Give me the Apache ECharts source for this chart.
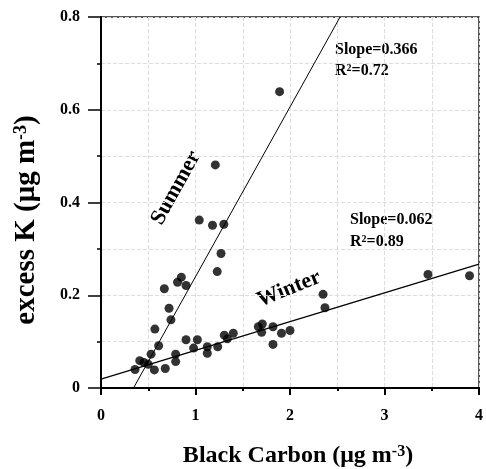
<!DOCTYPE html>
<html>
<head>
<meta charset="utf-8">
<script src="https://cdn.jsdelivr.net/npm/echarts@6/dist/echarts.min.js"></script>
<style>
  html, body { margin: 0; padding: 0; background: #fff; }
  #chart { width: 486px; height: 469px; }
</style>
</head>
<body>
<div id="chart"></div>
<script>
// summer points (black carbon, excess K)
const summerX = [0.41, 0.53, 0.57, 0.61, 0.67, 0.72, 0.74, 0.81, 0.85, 0.90, 1.04, 1.18, 1.30, 1.27, 1.23, 1.21, 1.89]
const summerY = [0.059, 0.073, 0.127, 0.091, 0.214, 0.172, 0.147, 0.228, 0.239, 0.221, 0.362, 0.351, 0.353, 0.290, 0.251, 0.481, 0.639]
// winter points
const winterX = [0.36, 0.455, 0.50, 0.565, 0.68, 0.79, 0.79, 0.90, 0.98, 1.02, 1.125, 1.125, 1.235, 1.305, 1.337, 1.40, 1.665, 1.707, 1.70, 1.82, 1.82, 1.91, 2.00, 2.35, 2.37, 3.46, 3.90]
const winterY = [0.040, 0.055, 0.051, 0.039, 0.042, 0.073, 0.057, 0.104, 0.086, 0.104, 0.089, 0.075, 0.089, 0.114, 0.106, 0.118, 0.132, 0.138, 0.120, 0.132, 0.094, 0.118, 0.124, 0.202, 0.173, 0.245, 0.242]
// regression lines: slope, intercept, x range
const fitSlope = [0.366, 0.062]
const fitIntercept = [-0.126, 0.019]
const fitFrom = [0.345, 0]
const fitTo = [2.53, 4]
const xTicks = [0, 1, 2, 3, 4]
const yTicks = [0, 0.2, 0.4, 0.6, 0.8]

const font = 'Liberation Serif'
const pairs = (xs, ys) => xs.map((x, i) => [x, ys[i]])
const fitLine = i => [fitFrom[i], fitTo[i]].map(x => [x, fitSlope[i] * x + fitIntercept[i]])
const sup = size => ({ font: 'bold ' + size + 'px "Liberation Serif"', verticalAlign: 'top', fill: '#000' })

const chart = echarts.init(document.getElementById('chart'))
chart.setOption({
  animation: false,
  grid: {
    left: 101, right: 7, top: 17, bottom: 81,
    show: true, borderColor: '#222', borderWidth: 1.5
  },
  xAxis: {
    type: 'value', min: 0, max: 4, interval: 1,
    axisLine: { lineStyle: { color: '#000', width: 2 } },
    axisTick: { length: 7, lineStyle: { color: '#000', width: 2 } },
    minorTick: { show: true, splitNumber: 2, length: 3, lineStyle: { color: '#000', width: 2 } },
    axisLabel: {
      fontFamily: font, fontWeight: 'bold', fontSize: 16, color: '#000', margin: 20,
      formatter: v => xTicks.includes(v) ? String(v) : ''
    },
    splitLine: { show: true, lineStyle: { color: '#ddd', type: 'dashed' } },
    minorSplitLine: { show: true, lineStyle: { color: '#ddd', type: 'dashed' } }
  },
  yAxis: {
    type: 'value', min: 0, max: 0.8, interval: 0.2,
    axisLine: { show: true, lineStyle: { color: '#000', width: 2 } },
    axisTick: { show: true, length: 13, lineStyle: { color: '#000', width: 1.5 } },
    minorTick: { show: true, splitNumber: 2, length: 4, lineStyle: { color: '#000', width: 1.5 } },
    axisLabel: {
      fontFamily: font, fontWeight: 'bold', fontSize: 16, color: '#000', margin: 21,
      formatter: v => yTicks.some(t => Math.abs(t - v) < 1e-9) ? (v === 0 ? '0' : v.toFixed(1)) : ''
    },
    splitLine: { show: true, lineStyle: { color: '#ddd', type: 'dashed' } },
    minorSplitLine: { show: true, lineStyle: { color: '#ddd', type: 'dashed' } }
  },
  series: [
    {
      type: 'scatter', data: pairs(summerX, summerY),
      symbolSize: 9, itemStyle: { color: '#000' }, z: 3
    },
    {
      type: 'scatter', data: pairs(winterX, winterY),
      symbolSize: 9, itemStyle: { color: '#000' }, z: 3
    },
    {
      type: 'line', data: fitLine(0), symbol: 'none',
      lineStyle: { color: '#000', width: 1 }
    },
    {
      type: 'line', data: fitLine(1), symbol: 'none',
      lineStyle: { color: '#000', width: 1.2 }
    }
  ],
  graphic: [
    // axis titles
    {
      type: 'text', x: 298, y: 456,
      style: {
        text: 'Black Carbon (μg m{s|-3})', font: 'bold 24px "Liberation Serif"', fill: '#000',
        align: 'center', verticalAlign: 'middle', rich: { s: sup(16) }
      }
    },
    {
      type: 'text', x: 27, y: 220, rotation: Math.PI / 2,
      style: {
        text: 'excess K (μg m{s|-3})', font: 'bold 29px "Liberation Serif"', fill: '#000',
        align: 'center', verticalAlign: 'middle', rich: { s: sup(18) }
      }
    },
    // fit annotations
    {
      type: 'text', left: 335, top: 42,
      style: { text: 'Slope=0.366', font: 'bold 16px "Liberation Serif"', fill: '#000' }
    },
    {
      type: 'text', left: 335, top: 63,
      style: { text: 'R{s|2}=0.72', font: 'bold 16px "Liberation Serif"', fill: '#000', rich: { s: sup(10) } }
    },
    {
      type: 'text', left: 350, top: 212,
      style: { text: 'Slope=0.062', font: 'bold 16px "Liberation Serif"', fill: '#000' }
    },
    {
      type: 'text', left: 350, top: 234,
      style: { text: 'R{s|2}=0.89', font: 'bold 16px "Liberation Serif"', fill: '#000', rich: { s: sup(10) } }
    },
    // series labels along the fit lines
    {
      type: 'text', x: 176, y: 188, rotation: 61 * Math.PI / 180,
      style: {
        text: 'Summer', font: 'bold 22px "Liberation Serif"', fill: '#000',
        align: 'center', verticalAlign: 'middle'
      }
    },
    {
      type: 'text', x: 289, y: 289, rotation: 22 * Math.PI / 180,
      style: {
        text: 'Winter', font: 'bold 22px "Liberation Serif"', fill: '#000',
        align: 'center', verticalAlign: 'middle'
      }
    }
  ]
})
</script>
</body>
</html>
